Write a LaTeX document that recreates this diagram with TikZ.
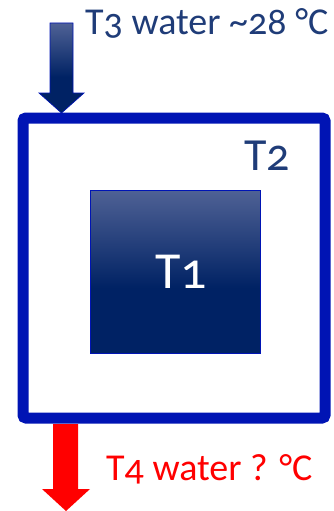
\documentclass[tikz,border=0pt]{standalone}
\usepackage{fontspec}
\setmainfont{Carlito}[Numbers=OldStyle]
\usetikzlibrary{positioning}
\definecolor{framblue}{RGB}{0,20,180}
\definecolor{navytext}{RGB}{31,60,120}
\definecolor{navy}{RGB}{0,34,100}
\definecolor{greyblue}{RGB}{132,140,182}
\definecolor{hotred}{RGB}{255,0,0}
\pgfdeclareverticalshading{coolfade}{100bp}{
  color(0bp)=(navy!80!framblue); color(20bp)=(navy); color(45bp)=(navy);
  color(80bp)=(greyblue!70!navy); color(100bp)=(greyblue)}

\begin{document}
\begin{tikzpicture}[x=1pt,y=-1pt,
  frame/.style={draw=framblue,line width=11pt,rounded corners=3pt},
  core/.style={draw=framblue,line width=0.8pt,shading=coolfade,
               minimum width=170pt,minimum height=163pt,inner sep=0pt,
               text=white,font=\fontsize{52}{52}\selectfont},
  inarrow/.style={draw=framblue,line width=0.7pt,shading=coolfade},
  outarrow/.style={fill=hotred},
  lbl/.style={inner sep=0pt,anchor=base west,font=\fontsize{38}{38}\selectfont}
]
  \useasboundingbox (0,0) rectangle (333,511);

  % outer tank
  \draw[frame] (23,118) rectangle (325,418);

  % inner body
  \node[core] (body) at (175,271.5) {\raisebox{-6pt}{\hspace{12pt}T1}};

  % temperatures
  \node[lbl,text=navytext,font=\fontsize{46}{46}\selectfont] (ttwo) at (244,170) {T2};
  \node[lbl,text=navytext] (tin) at (85,35) {T3 water \textasciitilde 28 °C};
  \node[lbl,text=hotred] (tout) at (106,480) {T4 water ? °C};

  % water in
  \shade[inarrow] (50,23) -- (73,23) -- (73,93) -- (84,93) -- (61.5,113)
    -- (39,93) -- (50,93) -- cycle;

  % water out
  \fill[outarrow] (53,424) -- (78,424) -- (78,489) -- (90,489) -- (66,511)
    -- (42,489) -- (53,489) -- cycle;
\end{tikzpicture}
\end{document}
